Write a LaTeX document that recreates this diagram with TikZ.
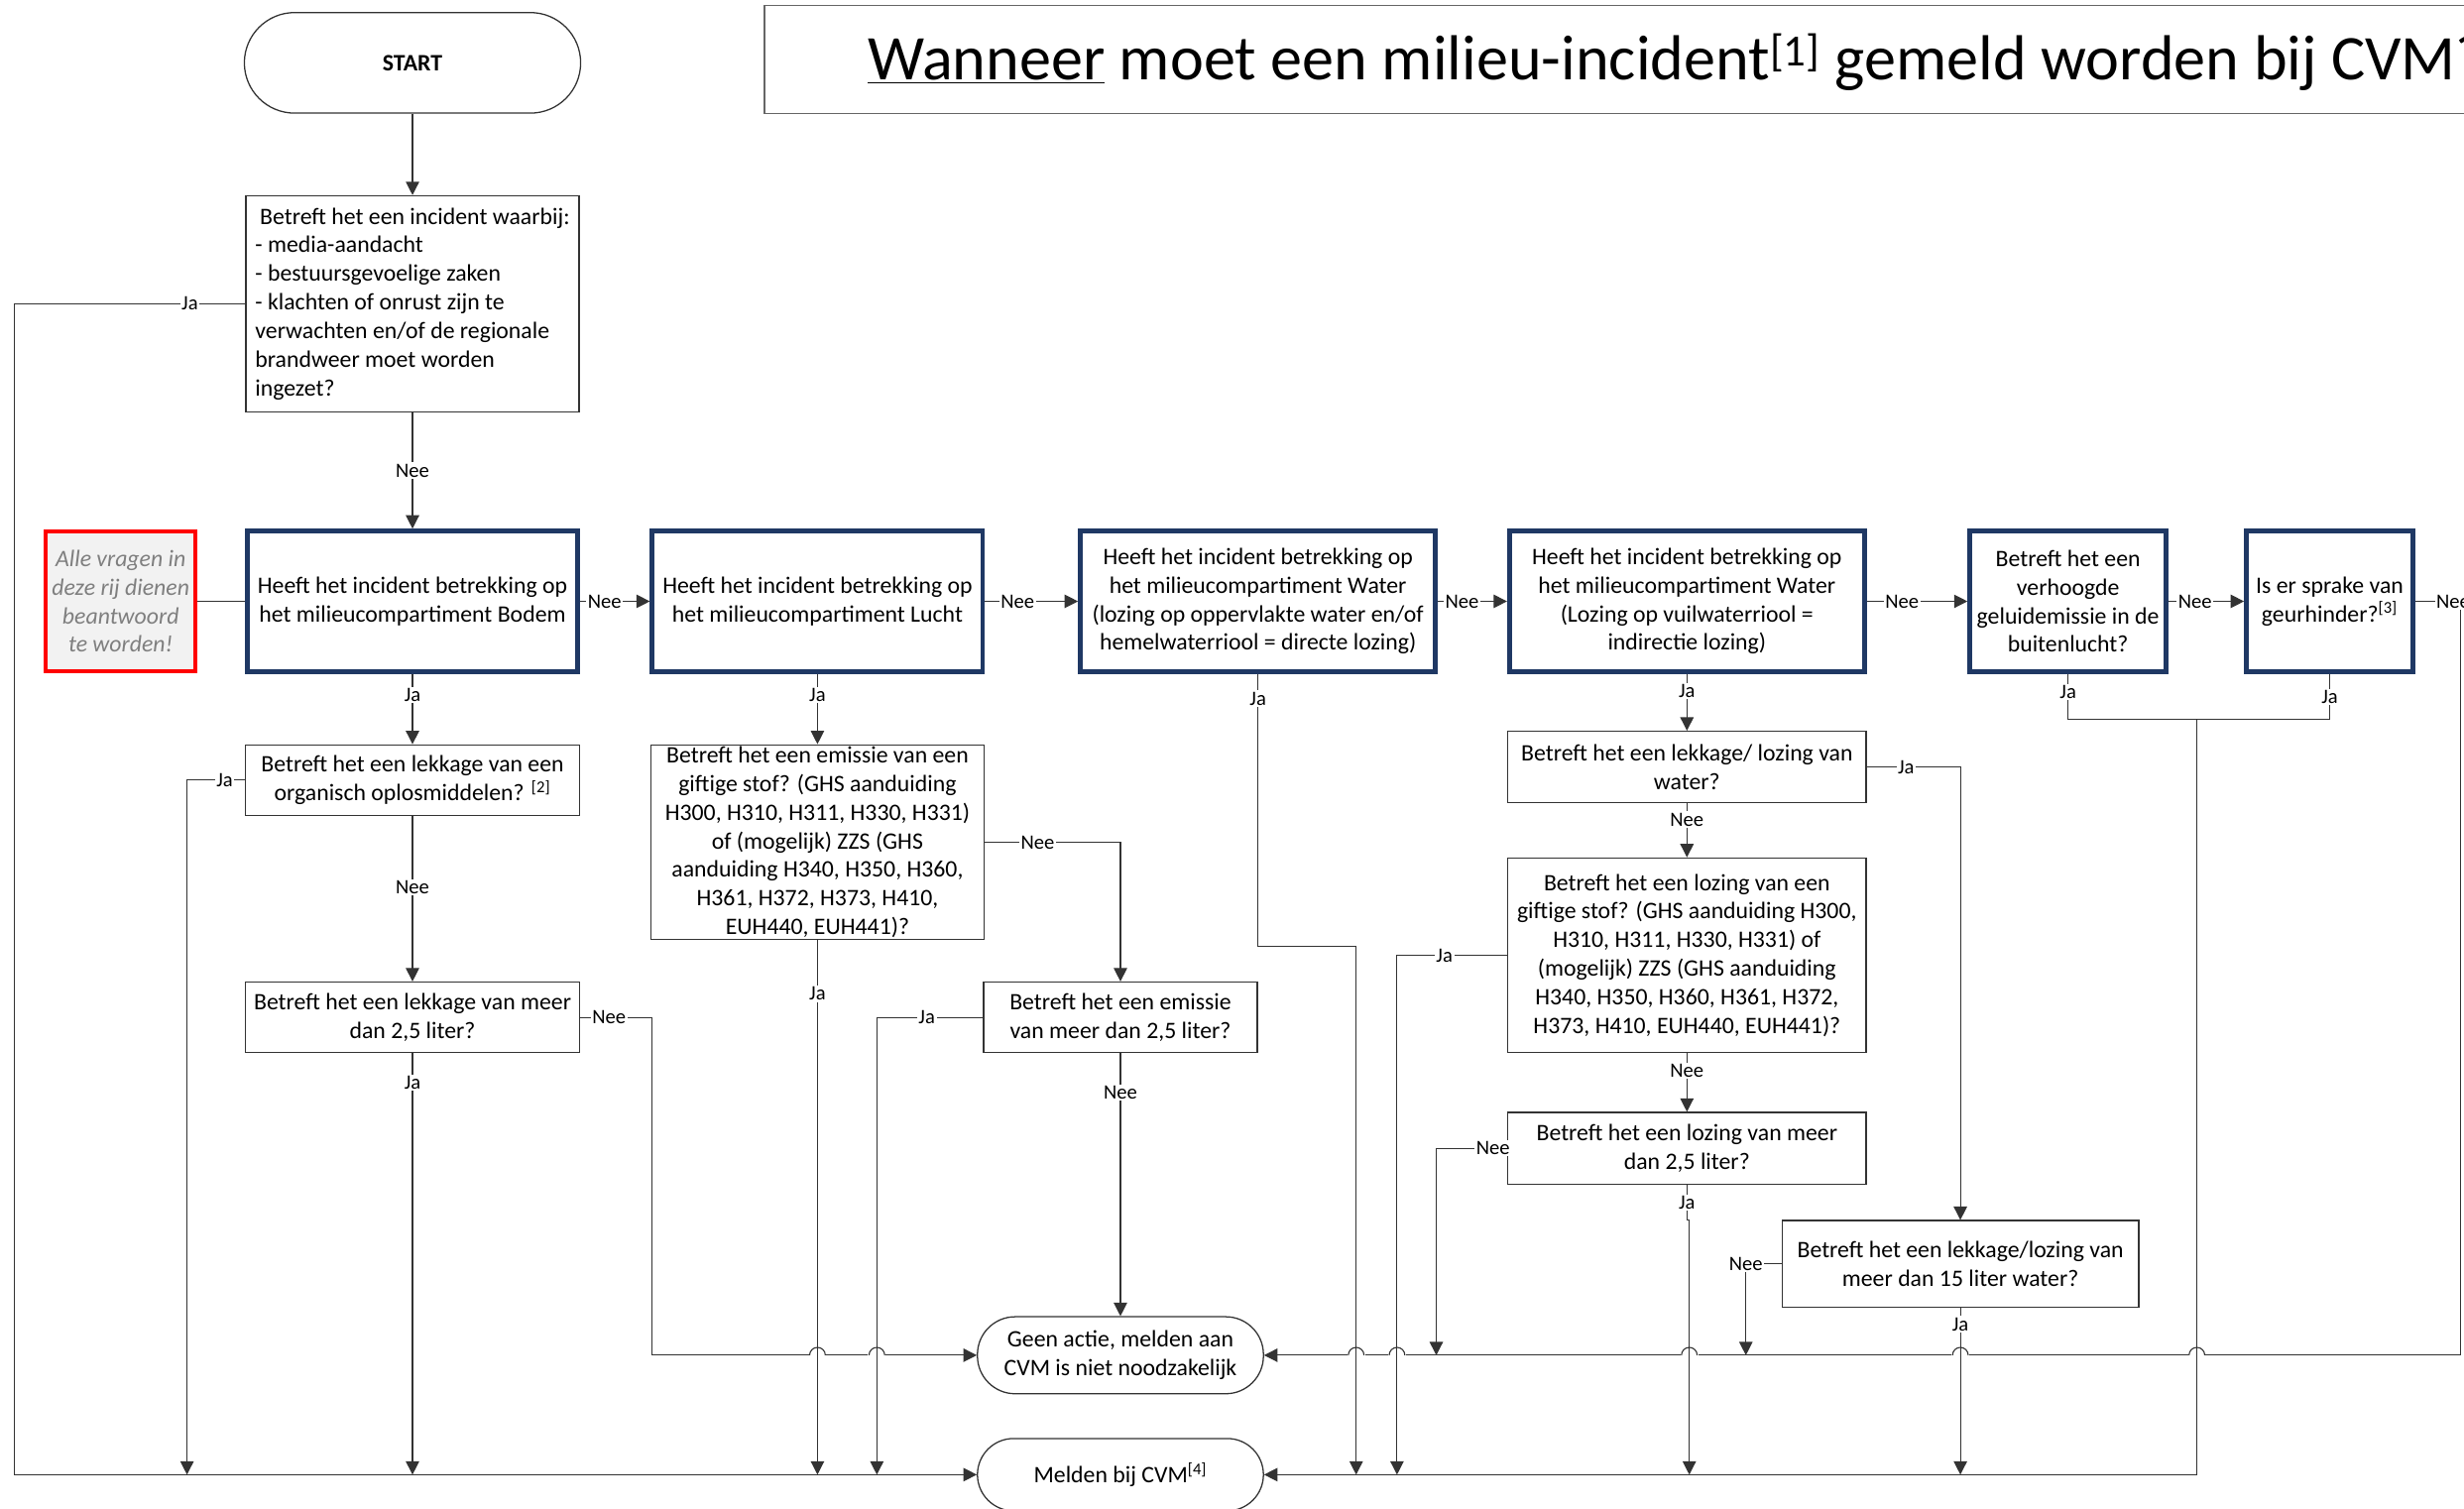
\documentclass[tikz,border=0pt]{standalone}
\usepackage{fontspec}
\setmainfont{Carlito}
\usetikzlibrary{arrows.meta}
\definecolor{navy}{HTML}{1F3864}
\definecolor{notefill}{HTML}{F2F2F2}
\definecolor{notetext}{HTML}{7F7F7F}

\begin{document}
\begin{tikzpicture}[x=1pt, y=-1pt,
  qbox/.style={draw=black!80, line width=0.8pt, align=center, inner sep=0pt,
    font=\fontsize{15}{18.2}\selectfont},
  mainbox/.style={qbox, draw=navy, line width=3pt},
  conn/.style={draw=black!80, line width=0.7pt},
  arr/.style={conn, -{Triangle[length=8.5pt,width=8.5pt]}},
  lbl/.style={font=\fontsize{13}{15}\selectfont, fill=white, inner sep=1pt}]
  \path[use as bounding box, fill=white] (0,0) rectangle (1568,960);
  \clip (0,0) rectangle (1568,960);

  % titel
  \draw[conn, draw=black!60] (486.5,3.6) rectangle (1700,72);
  \node[anchor=base west, inner sep=0pt, font=\fontsize{40.5}{48}\selectfont] (title) at (552,51)
    {\underline{Wanneer} moet een milieu-incident\textsuperscript{[1]} gemeld worden bij CVM?};

  \node[qbox, rounded corners=32pt, minimum width=214pt, minimum height=64pt,
    font=\fontsize{15}{18.2}\selectfont\bfseries] (start) at (262.5,40) {START};
  \node[qbox, align=left, minimum width=212pt, minimum height=137.5pt] (q0) at (262.5,193.3)
    {\hspace*{3pt}Betreft het een incident waarbij:\\- media-aandacht\\- bestuursgevoelige zaken\\
     - klachten of onrust zijn te\\verwachten en/of de regionale\\brandweer moet worden\\ingezet?};

  % rij met compartimenten
  \node[mainbox, draw=red, line width=2.5pt, fill=notefill, text=notetext,
    font=\fontsize{15}{18.2}\selectfont\itshape, minimum width=95pt, minimum height=89.5pt] (note) at (76.8,382.7)
    {Alle vragen in\\deze rij dienen\\beantwoord\\te worden!};
  \node[mainbox, minimum width=210.4pt, minimum height=89.5pt] (bodem) at (262.5,382.7)
    {Heeft het incident betrekking op\\het milieucompartiment Bodem};
  \node[mainbox, minimum width=210.3pt, minimum height=89.5pt] (lucht) at (520.2,382.7)
    {Heeft het incident betrekking op\\het milieucompartiment Lucht};
  \node[mainbox, minimum width=226pt, minimum height=89.5pt] (wdirect) at (800.5,382.7)
    {Heeft het incident betrekking op\\het milieucompartiment Water\\(lozing op oppervlakte water en/of\\hemelwaterriool = directe lozing)};
  \node[mainbox, minimum width=226pt, minimum height=89.5pt] (windirect) at (1073.5,382.7)
    {Heeft het incident betrekking op\\het milieucompartiment Water\\(Lozing op vuilwaterriool =\\indirectie lozing)};
  \node[mainbox, minimum width=125pt, minimum height=89.5pt] (geluid) at (1316,382.7)
    {Betreft het een\\verhoogde\\geluidemissie in de\\buitenlucht?};
  \node[mainbox, minimum width=106pt, minimum height=89.5pt] (geur) at (1482.5,382.7)
    {Is er sprake van\\geurhinder?\textsuperscript{[3]}};

  % vervolgvragen
  \node[qbox, minimum width=212.6pt, minimum height=45pt] (b1) at (262.5,496.5)
    {Betreft het een lekkage van een\\organisch oplosmiddelen? \textsuperscript{[2]}};
  \node[qbox, minimum width=212.6pt, minimum height=45pt] (b2) at (262.5,647.5)
    {Betreft het een lekkage van meer\\dan 2,5 liter?};
  \node[qbox, minimum width=212pt, minimum height=124pt] (l1) at (520.2,536)
    {Betreft het een emissie van een\\giftige stof? (GHS aanduiding\\H300, H310, H311, H330, H331)\\
     of (mogelijk) ZZS (GHS\\aanduiding H340, H350, H360,\\H361, H372, H373, H410,\\EUH440, EUH441)?};
  \node[qbox, minimum width=174pt, minimum height=45pt] (l2) at (713,647.5)
    {Betreft het een emissie\\van meer dan 2,5 liter?};
  \node[qbox, minimum width=228pt, minimum height=45.6pt] (w1) at (1073.5,488.2)
    {Betreft het een lekkage/ lozing van\\water?};
  \node[qbox, minimum width=228pt, minimum height=124pt] (w2) at (1073.5,608)
    {Betreft het een lozing van een\\giftige stof? (GHS aanduiding H300,\\H310, H311, H330, H331) of\\
     (mogelijk) ZZS (GHS aanduiding\\H340, H350, H360, H361, H372,\\H373, H410, EUH440, EUH441)?};
  \node[qbox, minimum width=228pt, minimum height=45.7pt] (w3) at (1073.5,730.8)
    {Betreft het een lozing van meer\\dan 2,5 liter?};
  \node[qbox, minimum width=227pt, minimum height=55pt] (w4) at (1247.5,804.3)
    {Betreft het een lekkage/lozing van\\meer dan 15 liter water?};

  % eindpunten
  \node[qbox, rounded corners=24pt, minimum width=182pt, minimum height=49pt] (geen) at (713,862.5)
    {Geen actie, melden aan\\CVM is niet noodzakelijk};
  \node[qbox, rounded corners=23pt, minimum width=182pt, minimum height=46pt] (melden) at (713,938.5)
    {Melden bij CVM\textsuperscript{[4]}};

  \coordinate (mL) at (9,938.5);
  \coordinate (mR) at (1398,938.5);
  \coordinate (gR) at (1566,382.7);
  \coordinate (gB) at (1566,862.5);
  \coordinate (gJ) at (1398,458);
  \coordinate (b1J) at (119,938.5);
  \coordinate (b2N) at (415,862.5);
  \coordinate (l2J) at (558,938.5);
  \coordinate (wdA) at (863,602);
  \coordinate (w2J) at (889,938.5);
  \coordinate (w3N) at (914,862.5);
  \coordinate (w3J) at (1075,938.5);
  \coordinate (w4N) at (1111,862.5);

  % lijnen naar Geen actie eerst (ivm bruggetjes)
  \draw[arr] (geur) -- node[lbl,pos=.83]{Nee} (gR) -- (gB) -- (geen);
  \draw[arr] (b2) -- node[lbl,pos=.4]{Nee} (b2 -| b2N) -- (b2N) -- (geen);
  \foreach \bx in {520.2,558,863,889,1075,1247.5,1398}{
    \fill[white] (\bx-5.6,860) rectangle (\bx+5.6,865);
    \draw[conn] (\bx-5,862.5) arc[start angle=180,end angle=360,radius=5];
  }

  \draw[arr] (start) -- (q0);
  \draw[arr] (q0) -- node[lbl]{Nee} (bodem);
  \draw[arr] (q0) -- node[lbl,pos=.24]{Ja} (q0 -| mL) -- (mL) -- (melden);
  \draw[conn] (note) -- (bodem);

  \draw[arr] (bodem) -- node[lbl,pos=.35]{Nee} (lucht);
  \draw[arr] (lucht) -- node[lbl,pos=.35]{Nee} (wdirect);
  \draw[arr] (wdirect) -- node[lbl,pos=.35]{Nee} (windirect);
  \draw[arr] (windirect) -- node[lbl,pos=.35]{Nee} (geluid);
  \draw[arr] (geluid) -- node[lbl,pos=.35]{Nee} (geur);

  % Bodem
  \draw[arr] (bodem) -- node[lbl,pos=.3]{Ja} (b1);
  \draw[arr] (b1) -- node[lbl,pos=.35]{Ja} (b1 -| b1J) -- (b1J);
  \draw[arr] (b1) -- node[lbl,pos=.43]{Nee} (b2);
  \draw[arr] (b2) -- node[lbl,pos=.07]{Ja} (b2 |- melden);

  % Lucht
  \draw[arr] (lucht) -- node[lbl,pos=.3]{Ja} (l1);
  \draw[arr] (l1) -- node[lbl,pos=.1]{Ja} (l1 |- melden);
  \draw[arr] (l1) -- node[lbl,pos=.39]{Nee} (l1 -| l2) -- (l2);
  \draw[arr] (l2) -- node[lbl,pos=.53]{Ja} (l2 -| l2J) -- (l2J);
  \draw[arr] (l2) -- node[lbl,pos=.15]{Nee} (geen);

  % Water
  \draw[arr] (wdirect) -- node[lbl,pos=.09]{Ja} (wdirect |- wdA) -- (wdA) -- (wdA |- melden);
  \draw[arr] (windirect) -- node[lbl,pos=.3]{Ja} (w1);
  \draw[arr] (w1) -- node[lbl,pos=.42]{Ja} (w1 -| w4) -- (w4);
  \draw[arr] (w1) -- node[lbl,pos=.3]{Nee} (w2);
  \draw[arr] (w2) -- node[lbl,pos=.57]{Ja} (w2 -| w2J) -- (w2J);
  \draw[arr] (w2) -- node[lbl,pos=.3]{Nee} (w3);
  \draw[arr] (w3) -- node[lbl,pos=.2]{Nee} (w3 -| w3N) -- (w3N);
  \draw[arr] (w3.south) -- node[lbl,pos=.5]{Ja} ++(0,22.5) -- ++(1.5,0) -- (w3J);
  \draw[arr] (w4) -- (w4 -| w4N) node[lbl]{Nee} -- (w4N);
  \draw[arr] (w4) -- node[lbl,pos=.1]{Ja} (w4 |- melden);

  % Geluid en geur
  \draw[conn] (geluid) -- node[lbl,pos=.4]{Ja} (geluid |- gJ) -- (geur |- gJ) -- node[lbl,pos=.5]{Ja} (geur);
  \draw[arr] (gJ) -- (mR) -- (melden);
\end{tikzpicture}
\end{document}
